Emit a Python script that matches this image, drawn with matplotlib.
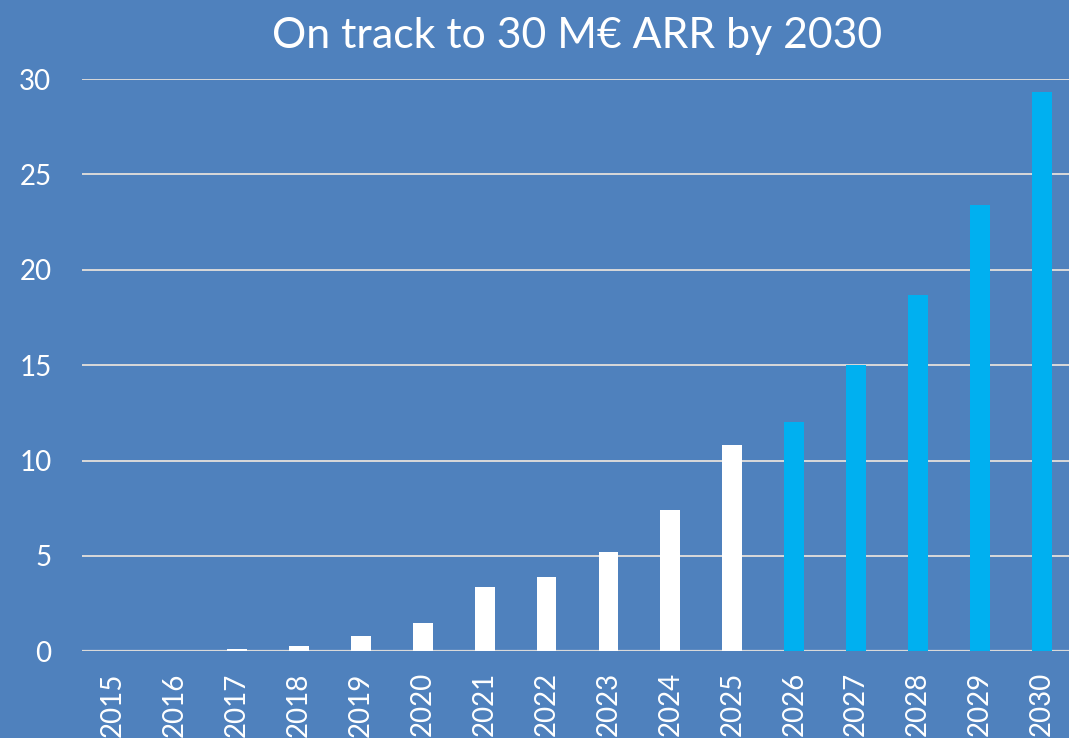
import matplotlib
matplotlib.use("Agg")
import matplotlib.pyplot as plt

years = [str(y) for y in range(2015, 2031)]
arr_actual = [0, 0, 0.1, 0.28, 0.80, 1.48, 3.37, 3.89, 5.20, 7.41, 10.81]
arr_plan = [12.0, 15.0, 18.7, 23.4, 29.3]

bg = "#4F81BD"
plt.rcParams["font.family"] = ["Lato", "DejaVu Sans"]

fig = plt.figure(figsize=(10.69, 7.38), dpi=100, facecolor=bg)
ax = fig.add_axes([82 / 1069, 86.7 / 738, 991 / 1069, 572.3 / 738], facecolor=bg)

n_act = len(arr_actual)
x_act = list(range(n_act))
x_plan = list(range(n_act, n_act + len(arr_plan)))
ax.bar(x_act, arr_actual, width=0.32, color="white", zorder=3)
ax.bar(x_plan, arr_plan, width=0.32, color="#00B0F0", zorder=3)

ax.set_xlim(-0.5, len(years) - 0.5)
ax.set_ylim(0, 30)
ax.set_yticks(range(0, 31, 5))
ax.set_xticks(range(len(years)))
ax.set_xticklabels(years, rotation=90)

ax.grid(axis="y", color="#D9D9D9", linewidth=1.4, zorder=1)
for s in ax.spines.values():
    s.set_visible(False)
ax.axhline(0, color="#D9D9D9", linewidth=1.6, zorder=2)

ax.tick_params(axis="y", length=0, pad=22, labelsize=20, labelcolor="white")
ax.tick_params(axis="x", length=0, pad=15, labelsize=20, labelcolor="white")

ax.set_title("On track to 30 M€ ARR by 2030", color="white", fontsize=30.8, pad=22)

fig.savefig("out.png", dpi=100, facecolor=bg)
